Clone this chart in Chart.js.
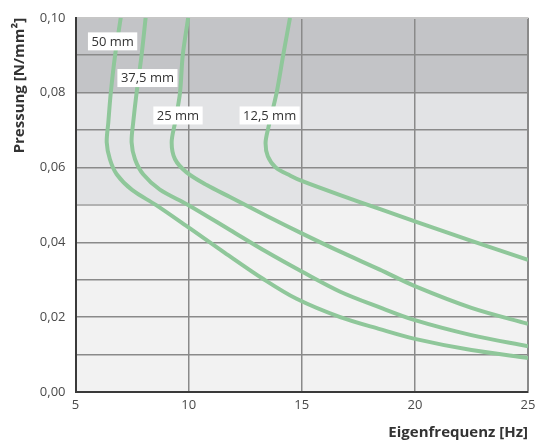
<!DOCTYPE html>
<html>
<head>
<meta charset="utf-8">
<script src="https://cdn.jsdelivr.net/npm/chart.js@4.4.1/dist/chart.umd.min.js"></script>
<style>
  html, body { margin: 0; padding: 0; background: #ffffff; }
  #wrap { width: 541px; height: 443px; }
</style>
</head>
<body>
<div id="wrap"><canvas id="c" width="541" height="443"></canvas></div>
<script>
// Eigenfrequenz [Hz] vs. Pressung [N/mm²] for four layer thicknesses
const seriesNames = ['50 mm', '37,5 mm', '25 mm', '12,5 mm'];

const freq50  = [7.00, 6.75, 6.56, 6.45, 6.38, 6.52, 6.82, 7.50, 8.55, 10.06, 11.60, 13.30, 14.77, 16.70, 18.45, 20.00, 22.50, 25.00];
const press50 = [0.100, 0.090, 0.080, 0.072, 0.0667, 0.0622, 0.0582, 0.0540, 0.0500, 0.0437, 0.0372, 0.0302, 0.0249, 0.0200, 0.0168, 0.0142, 0.0112, 0.0091];

const freq375  = [8.10, 7.92, 7.70, 7.55, 7.48, 7.63, 8.00, 8.73, 9.98, 11.83, 13.40, 15.00, 16.70, 18.45, 20.00, 22.50, 25.00];
const press375 = [0.100, 0.090, 0.080, 0.072, 0.0667, 0.0622, 0.0581, 0.0541, 0.0500, 0.0433, 0.0376, 0.0322, 0.0268, 0.0226, 0.0192, 0.0152, 0.0122];

const freq25  = [9.98, 9.74, 9.62, 9.40, 9.25, 9.40, 9.91, 10.80, 11.83, 13.50, 15.00, 16.70, 18.45, 20.00, 22.50, 25.00];
const press25 = [0.100, 0.090, 0.080, 0.072, 0.0667, 0.0622, 0.0587, 0.0553, 0.0521, 0.0469, 0.0424, 0.0375, 0.0327, 0.0283, 0.0225, 0.0182];

const freq125  = [14.48, 14.18, 13.89, 13.50, 13.40, 13.50, 13.85, 14.50, 15.00, 16.70, 18.50, 20.00, 22.50, 25.00];
const press125 = [0.100, 0.090, 0.080, 0.070, 0.0665, 0.0630, 0.0600, 0.0578, 0.0564, 0.0526, 0.0488, 0.0456, 0.0404, 0.0353];

// axis ticks
const xTicks = [5, 10, 15, 20, 25];
const yTickLabels = ['0,00', '0,02', '0,04', '0,06', '0,08', '0,10'];

// shaded pressure ranges
const bandLimits = [0.00, 0.05, 0.08, 0.10];
const bandColors = ['#f2f2f2', '#e2e3e5', '#c3c4c7'];

// where each curve name is written
const labelFreq  = [6.64, 8.18, 9.53, 13.58];
const labelPress = [0.0937, 0.0839, 0.0739, 0.0739];

const curveColor = '#8fc79a';

function toPoints(xs, ys) { return xs.map((x, i) => ({ x: x, y: ys[i] })); }

const curves = [
  toPoints(freq50, press50),
  toPoints(freq375, press375),
  toPoints(freq25, press25),
  toPoints(freq125, press125)
];

const bandsPlugin = {
  id: 'bands',
  beforeDraw(chart) {
    const { ctx, chartArea, scales } = chart;
    ctx.save();
    for (let i = 0; i < bandColors.length; i++) {
      const yTop = scales.y.getPixelForValue(bandLimits[i + 1]);
      const yBot = scales.y.getPixelForValue(bandLimits[i]);
      ctx.fillStyle = bandColors[i];
      ctx.fillRect(chartArea.left, yTop, chartArea.right - chartArea.left, yBot - yTop);
    }
    ctx.restore();
  }
};

const curveLabelsPlugin = {
  id: 'curveLabels',
  afterDatasetsDraw(chart) {
    const { ctx, scales } = chart;
    ctx.save();
    ctx.font = '13px "Open Sans", sans-serif';
    ctx.textAlign = 'center';
    ctx.textBaseline = 'middle';
    seriesNames.forEach((name, i) => {
      const px = scales.x.getPixelForValue(labelFreq[i]);
      const py = scales.y.getPixelForValue(labelPress[i]);
      const w = ctx.measureText(name).width + 7;
      const h = 18;
      ctx.fillStyle = '#ffffff';
      ctx.fillRect(px - w / 2, py - h / 2, w, h);
      ctx.fillStyle = '#333333';
      ctx.fillText(name, px, py + 0.5);
    });
    ctx.restore();
  }
};

new Chart(document.getElementById('c'), {
  type: 'scatter',
  data: {
    datasets: curves.map((pts, i) => ({
      label: seriesNames[i],
      data: pts,
      showLine: true,
      borderColor: curveColor,
      borderWidth: 4,
      pointRadius: 0,
      tension: 0.32,
      fill: false
    }))
  },
  options: {
    responsive: false,
    animation: false,
    devicePixelRatio: 1,
    layout: { padding: { top: 14, right: 13, left: 0, bottom: 0 } },
    plugins: {
      legend: { display: false },
      tooltip: { enabled: false }
    },
    scales: {
      x: {
        type: 'linear',
        min: 5,
        max: 25,
        afterBuildTicks(scale) { scale.ticks = xTicks.map(v => ({ value: v })); },
        afterFit(scale) { scale.height = 51; },
        ticks: {
          padding: 5,
          color: '#4a4a4a',
          font: { family: '"Open Sans", sans-serif', size: 13 },
          callback: v => String(v)
        },
        grid: {
          drawTicks: false,
          color: '#8a8a8a',
          lineWidth: c => (c.tick && c.tick.value === 25) ? 2 : 1.5
        },
        border: { display: true, color: '#3a3a3a', width: 2 },
        title: {
          display: true,
          text: 'Eigenfrequenz [Hz]',
          align: 'end',
          color: '#333333',
          font: { family: '"Open Sans", sans-serif', size: 15, weight: 'bold' },
          padding: { top: 0, bottom: 1 }
        }
      },
      y: {
        type: 'linear',
        min: 0,
        max: 0.10,
        ticks: {
          stepSize: 0.01,
          padding: 10,
          color: '#4a4a4a',
          font: { family: '"Open Sans", sans-serif', size: 13 },
          callback: v => {
            const k = Math.round(v * 100);
            return (k % 2 === 0) ? yTickLabels[k / 2] : '';
          }
        },
        afterFit(scale) { scale.width = 75.5; },
        grid: {
          drawTicks: false,
          color: c => {
            const k = c.tick ? Math.round(c.tick.value * 100) : -1;
            if (k === 10) return '#c6c6c6';
            if (k === 5) return '#b2b2b2';
            return '#8a8a8a';
          },
          lineWidth: c => {
            const k = c.tick ? Math.round(c.tick.value * 100) : -1;
            if (k === 10 || k === 5) return 2;
            return 1.5;
          }
        },
        border: { display: true, color: '#3a3a3a', width: 2 },
        title: {
          display: true,
          text: 'Pressung [N/mm²]',
          align: 'end',
          color: '#333333',
          font: { family: '"Open Sans", sans-serif', size: 15, weight: 'bold' },
          padding: { top: 11, bottom: 0 }
        }
      }
    }
  },
  plugins: [bandsPlugin, curveLabelsPlugin]
});
</script>
</body>
</html>
